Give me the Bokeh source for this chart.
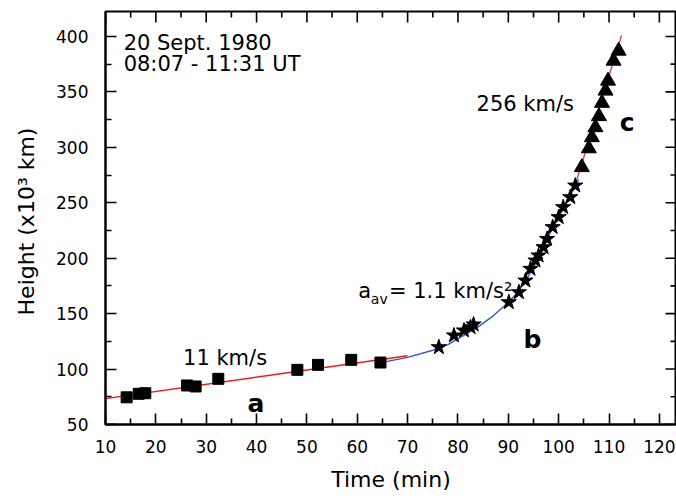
from bokeh.plotting import figure
from bokeh.models import Range1d, FixedTicker
from bokeh.embed import file_html
from bokeh.resources import INLINE
from bokeh.core.properties import value

# ---- data (time in min, height in 10^3 km) ----
sq_t = [14.2, 16.6, 17.9, 26.2, 27.9, 32.4, 48.1, 52.2, 58.8, 64.6]
sq_h = [74.5, 77.7, 78.2, 85.2, 84.3, 91.2, 99.3, 103.8, 108.3, 105.9]

star_t = [76.2, 79.2, 81.2, 82.5, 83.1, 90.1, 92.1, 93.4, 94.4, 95.4, 96.0,
          97.0, 97.7, 98.8, 100.0, 100.9, 102.3, 103.3]
star_h = [119.7, 130.3, 134.8, 137.7, 140.2, 160.3, 169.3, 179.8, 190.4, 197.9,
          202.4, 209.9, 217.4, 228.0, 237.0, 246.0, 255.0, 265.5]

tri_t = [104.6, 106.0, 106.6, 107.3, 108.0, 108.6, 109.3, 109.8, 110.9, 111.9]
tri_h = [282, 299, 309, 318, 328, 340, 351, 360, 378, 387]

red_t = [10, 70]
red_h = [73.3, 112.0]

blue_t = [65, 70, 75, 78, 81, 84, 87, 90, 92, 94, 96, 98, 100, 102, 104]
blue_h = [106, 110.5, 117, 122, 130, 138, 148, 160, 170, 184, 200, 220, 237, 254, 271]

mag_t = [103.0, 112.5]
mag_h = [262, 401]

x_major = [10, 20, 30, 40, 50, 60, 70, 80, 90, 100, 110, 120]
x_minor = [15, 25, 35, 45, 55, 65, 75, 85, 95, 105, 115]
y_major = [50, 100, 150, 200, 250, 300, 350, 400]
y_minor = [75, 125, 175, 225, 275, 325, 375]

X0, X1 = 10, 123.4
Y0, Y1 = 50, 422.5

FONT = "DejaVu Sans"
W, H = 676, 498
BL, BT, BR, BB = 105, 11, 0, 74
FW, FH = W - BL - BR, H - BT - BB

p = figure(width=W, height=H, x_range=Range1d(X0, X1), y_range=Range1d(Y0, Y1),
           output_backend="svg", toolbar_location=None,
           min_border_left=BL, min_border_top=BT, min_border_right=BR, min_border_bottom=BB)
p.grid.visible = False
p.outline_line_color = "black"
p.outline_line_width = 2
p.background_fill_color = "white"


def style_axis(ax, ticker):
    ax.ticker = ticker
    ax.axis_line_width = 2
    ax.axis_line_color = "black"
    ax.major_tick_in = 11
    ax.major_tick_out = 0
    ax.minor_tick_in = 6
    ax.minor_tick_out = 0
    ax.major_tick_line_width = 1.6
    ax.minor_tick_line_width = 1.6
    ax.major_tick_line_color = "black"
    ax.minor_tick_line_color = "black"
    ax.major_label_text_font = FONT
    ax.major_label_text_font_size = "17px"
    ax.major_label_text_color = "black"
    ax.axis_label_text_font = FONT
    ax.axis_label_text_font_size = "22px"
    ax.axis_label_text_font_style = "normal"
    ax.axis_label_text_color = "black"


xa = p.xaxis[0]
style_axis(xa, FixedTicker(ticks=x_major, minor_ticks=x_minor))
xa.major_label_standoff = 15
xa.axis_label = "Time (min)"
xa.axis_label_standoff = 11

ya = p.yaxis[0]
style_axis(ya, FixedTicker(ticks=y_major, minor_ticks=y_minor))
ya.major_label_standoff = 17
ya.axis_label = "Height  (x10\u00b3 km)"
ya.axis_label_standoff = 14

# inward ticks on the top and right frame edges (pixel lengths -> data units)
px_x = (X1 - X0) / FW
px_y = (Y1 - Y0) / FH
MAJ, MIN = 11, 6
p.segment(x_major, [Y1] * len(x_major), x_major, [Y1 - MAJ * px_y] * len(x_major),
          line_color="black", line_width=1.6)
p.segment(x_minor, [Y1] * len(x_minor), x_minor, [Y1 - MIN * px_y] * len(x_minor),
          line_color="black", line_width=1.6)
p.segment([X1] * len(y_major), y_major, [X1 - MAJ * px_x] * len(y_major), y_major,
          line_color="black", line_width=1.6)
p.segment([X1] * len(y_minor), y_minor, [X1 - MIN * px_x] * len(y_minor), y_minor,
          line_color="black", line_width=1.6)

# fit lines
p.line(red_t, red_h, line_color="#f01818", line_width=1.4)
p.line(blue_t, blue_h, line_color="#3558c8", line_width=1.4)
p.line(mag_t, mag_h, line_color="#c43ca8", line_width=1.4)

# data points
p.scatter(sq_t, sq_h, marker="square", size=11, fill_color="black", line_color="black")
p.scatter(star_t, star_h, marker="star", size=16, fill_color="black", line_color="black")
p.scatter(tri_t, tri_h, marker="triangle", size=15, fill_color="black", line_color="black")

# annotations
note_x = [13.6, 13.6, 25.4, 83.7]
note_y = [394.5, 375.5, 110.4, 339.5]
note_text = ["20 Sept. 1980", "08:07 - 11:31 UT", "11 km/s", "256 km/s"]
p.text(note_x, note_y, text=note_text, text_font=value(FONT), text_font_size="21px",
       text_baseline="alphabetic", text_align="left", text_color="black")

letter_x = [39.9, 94.8, 113.6]
letter_y = [68.9, 127.0, 322.3]
letter_text = ["a", "b", "c"]
p.text(letter_x, letter_y, text=letter_text, text_font=value(FONT), text_font_size="25px",
       text_font_style="bold", text_baseline="alphabetic", text_align="center", text_color="black")

p.text([60.2], [170.8], text=["a"], text_font=value(FONT), text_font_size="21px",
       text_baseline="alphabetic", text_align="left", text_color="black")
p.text([62.7], [163.6], text=["av"], text_font=value(FONT), text_font_size="14px",
       text_baseline="alphabetic", text_align="left", text_color="black")
p.text([66.3], [170.8], text=["= 1.1 km/s\u00b2"], text_font=value(FONT), text_font_size="21px",
       text_baseline="alphabetic", text_align="left", text_color="black")

open("out.html", "w").write(file_html(p, INLINE))
